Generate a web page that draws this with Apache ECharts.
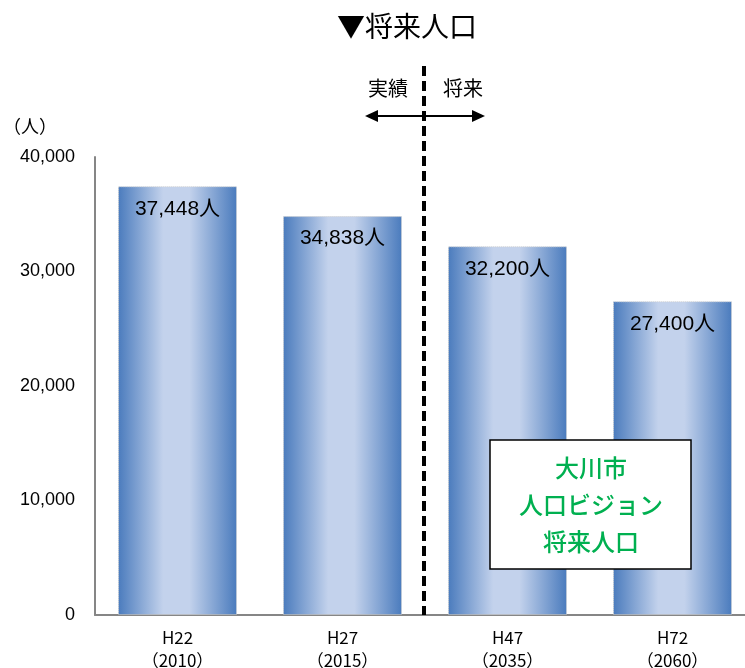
<!DOCTYPE html>
<html>
<head>
<meta charset="utf-8">
<script src="https://cdn.jsdelivr.net/npm/echarts@6/dist/echarts.min.js"></script>
<style>
  html, body { margin: 0; padding: 0; background: #fff; }
  #myChart_bar { width: 745px; height: 668px; }
</style>
</head>
<body>
<div id="myChart_bar"></div>
<script>
// 年次（和暦＋西暦）
const categories = ['H22\n（2010）', 'H27\n（2015）', 'H47\n（2035）', 'H72\n（2060）']
// 人口
const population = [37448, 34838, 32200, 27400]
// 目盛
const yTicks = [0, 10000, 20000, 30000, 40000]

const jpFont = '"Noto Sans CJK JP", "Noto Sans", sans-serif'
const numFont = '"Liberation Sans", "Noto Sans CJK JP", sans-serif'

// 棒の横方向グラデーション
const barGradient = new echarts.graphic.LinearGradient(0, 0, 1, 0, [
  { offset: 0, color: '#4a7bbd' },
  { offset: 0.38, color: '#c3d2ec' },
  { offset: 0.6, color: '#c3d2ec' },
  { offset: 1, color: '#4a7bbd' },
])

let myChart = echarts.init(document.getElementById('myChart_bar'))
myChart.setOption({
  animation: false,
  textStyle: { fontFamily: jpFont },
  title: {
    text: '▼将来人口',
    left: 332,
    top: 7,
    textStyle: { fontSize: 28, fontWeight: 'normal', color: '#000', fontFamily: jpFont },
  },
  grid: {
    left: 95,
    width: 660,
    top: 157,
    bottom: 53,
    outerBoundsMode: 'none',
  },
  xAxis: {
    type: 'category',
    data: categories,
    axisLine: { show: true, lineStyle: { color: '#868686', width: 2 } },
    axisTick: { show: false },
    axisLabel: {
      fontSize: 17,
      color: '#000',
      lineHeight: 23,
      margin: 11,
      fontFamily: jpFont,
    },
  },
  yAxis: {
    type: 'value',
    min: yTicks[0],
    max: yTicks[yTicks.length - 1],
    interval: yTicks[1] - yTicks[0],
    name: '（人）',
    nameLocation: 'end',
    nameGap: 22,
    nameTextStyle: { fontSize: 18, color: '#000', align: 'left', padding: [0, 0, 0, -92] },
    axisLine: { show: true, lineStyle: { color: '#868686', width: 2 } },
    axisTick: { show: false },
    splitLine: { show: false },
    axisLabel: {
      fontSize: 18,
      color: '#000',
      margin: 20,
      fontFamily: numFont,
      formatter: (v) => v.toLocaleString('en-US'),
    },
  },
  series: [
    {
      type: 'bar',
      data: population,
      barWidth: 119,
      itemStyle: {
        color: barGradient,
        borderColor: '#d0d0d0',
        borderWidth: 1,
        borderType: 'dotted',
      },
      label: {
        show: true,
        position: 'insideTop',
        distance: 12,
        fontSize: 21,
        color: '#000',
        fontFamily: numFont,
        formatter: (p) => p.value.toLocaleString('en-US') + '人',
      },
    },
  ],
  graphic: [
    // 実績／将来の区切り線
    {
      type: 'line',
      shape: { x1: 424, y1: 66, x2: 424, y2: 615 },
      style: { stroke: '#000', lineWidth: 4, lineDash: [10, 5] },
      z: 10,
    },
    // 両矢印
    {
      type: 'line',
      shape: { x1: 372, y1: 116, x2: 478, y2: 116 },
      style: { stroke: '#000', lineWidth: 2 },
      z: 10,
    },
    {
      type: 'polygon',
      shape: { points: [[365, 116], [378, 110], [378, 122]] },
      style: { fill: '#000' },
      z: 10,
    },
    {
      type: 'polygon',
      shape: { points: [[485, 116], [472, 110], [472, 122]] },
      style: { fill: '#000' },
      z: 10,
    },
    {
      type: 'text',
      x: 388,
      y: 88,
      style: { text: '実績', fill: '#000', align: 'center', verticalAlign: 'middle', font: '20px ' + jpFont },
      z: 10,
    },
    {
      type: 'text',
      x: 463,
      y: 88,
      style: { text: '将来', fill: '#000', align: 'center', verticalAlign: 'middle', font: '20px ' + jpFont },
      z: 10,
    },
    // 注記ボックス
    {
      type: 'rect',
      shape: { x: 490, y: 440, width: 201, height: 129 },
      style: { fill: '#fff', stroke: '#000', lineWidth: 1.5 },
      z: 20,
    },
    {
      type: 'text',
      x: 591,
      y: 505,
      style: {
        text: '大川市\n人口ビジョン\n将来人口',
        fill: '#00b050',
        align: 'center',
        verticalAlign: 'middle',
        lineHeight: 37,
        font: '500 24px ' + jpFont,
      },
      z: 21,
    },
  ],
})
window.addEventListener('resize', () => myChart.resize())
</script>
</body>
</html>
